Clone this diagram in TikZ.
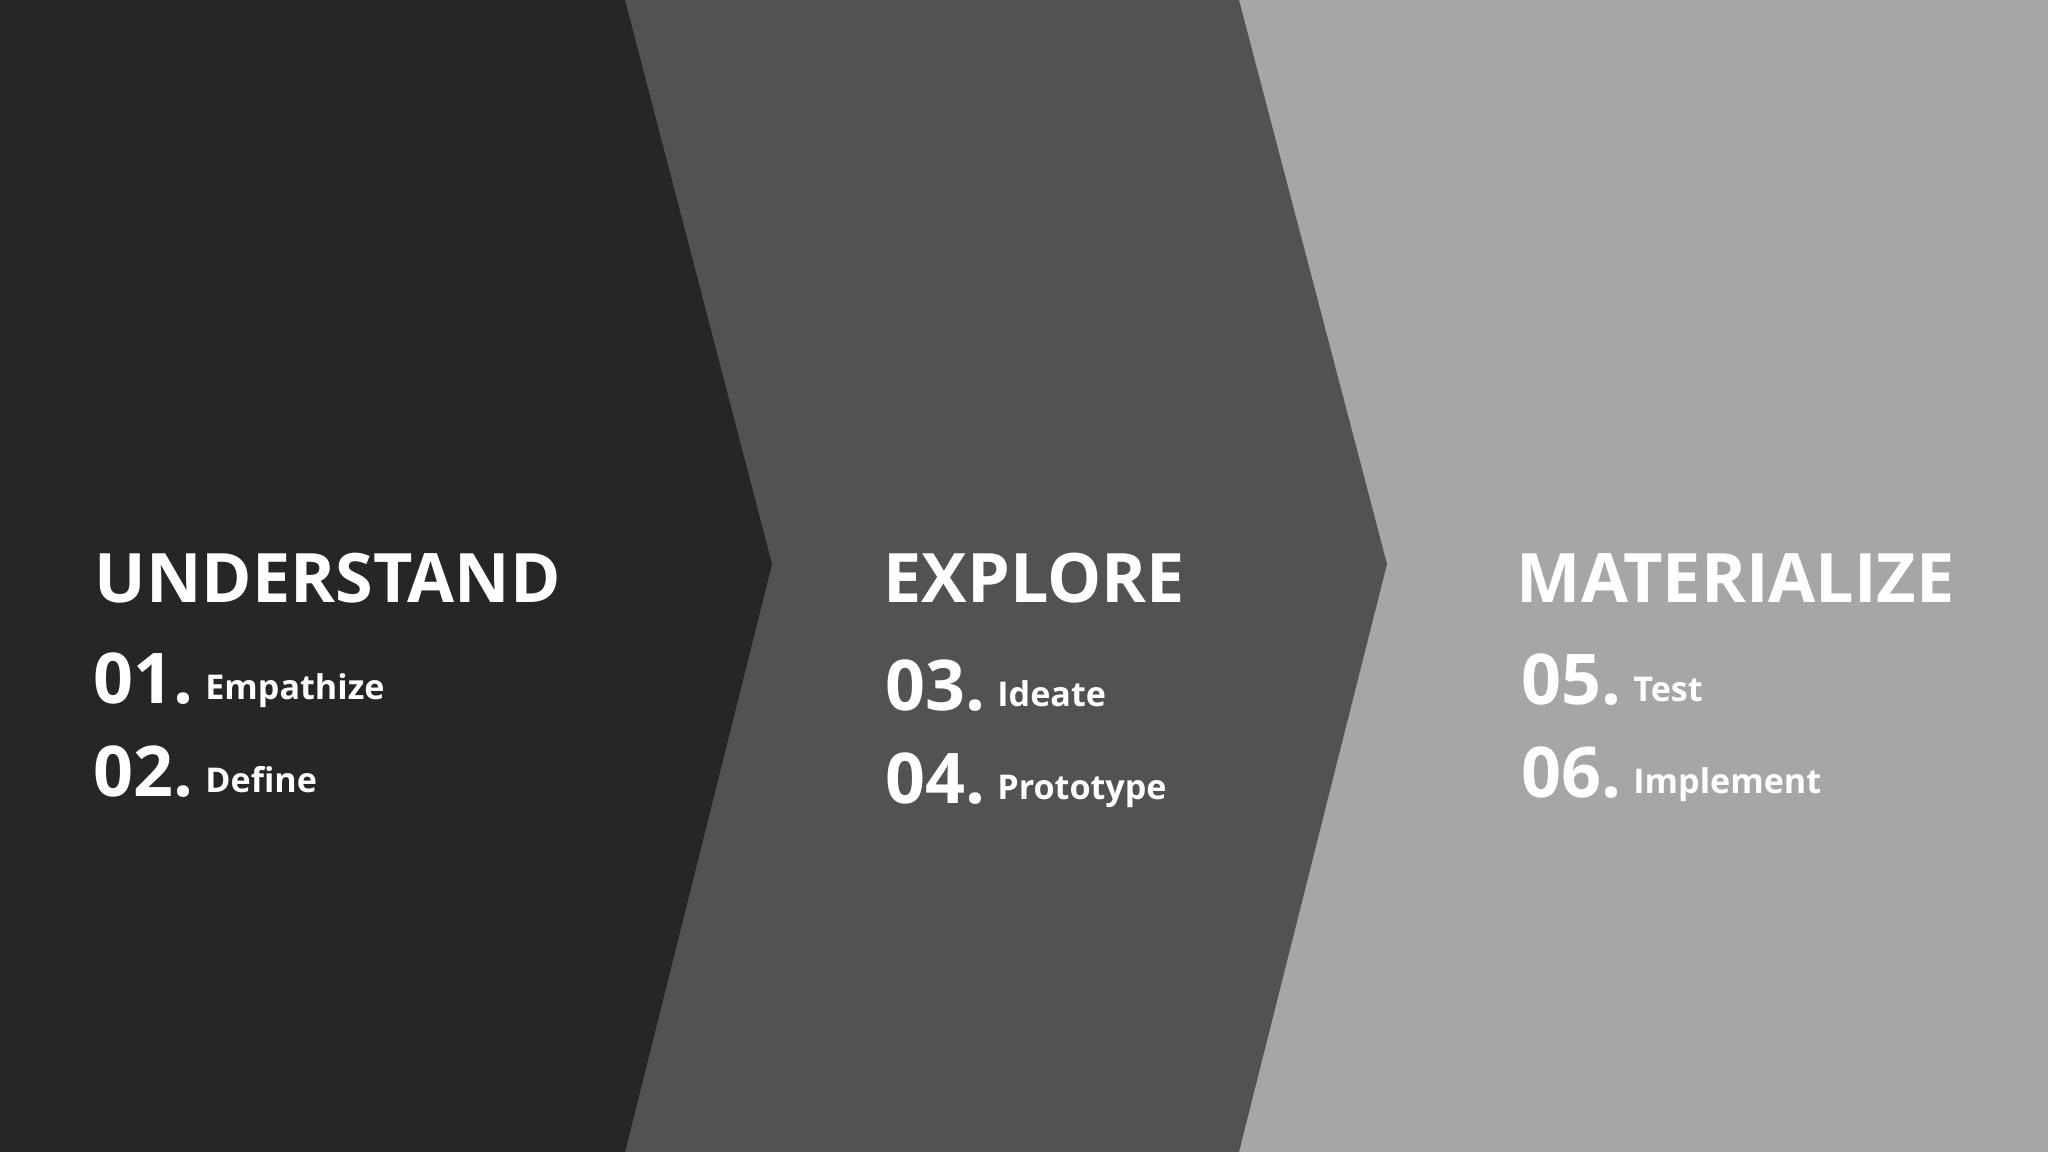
\documentclass[tikz,border=0pt]{standalone}
\usepackage{fontspec}
\setmainfont{Open Sans}
\definecolor{understandgray}{HTML}{262626}
\definecolor{exploregray}{HTML}{525252}
\definecolor{materializegray}{HTML}{A6A6A6}
\newcommand{\stepnum}[1]{{\fontsize{19.9}{24}\selectfont #1}}
\newcommand{\stepname}[1]{\raisebox{0.9pt}{#1}}
\begin{document}
\begin{tikzpicture}[x=0.01cm,y=-0.01cm,
    phase/.style={anchor=base west,inner sep=0pt,text=white,
      font=\bfseries\fontsize{19.4}{24}\selectfont},
    stepitem/.style={anchor=base west,inner sep=0pt,text=white,
      font=\bfseries\fontsize{9.7}{12}\selectfont}]
    \useasboundingbox (0,0) rectangle (2048,1152);
    % three chevron bands
    \fill[materializegray] (0,0) rectangle (2048,1152);
    \fill[exploregray] (0,0) -- (1239,0) -- (1387,564) -- (1239,1152) -- (0,1152) -- cycle;
    \fill[understandgray] (0,0) -- (625,0) -- (772,564) -- (625,1152) -- (0,1152) -- cycle;
    % phase titles
    \node[phase] (understand) at (94,603) {UNDERSTAND};
    \node[phase] (explore) at (883,603) {EXPLORE};
    \node[phase] (materialize) at (1516,603) {MATERIALIZE};
    % steps
    \node[stepitem] (empathize) at (93,703) {\stepnum{01.} \stepname{Empathize}};
    \node[stepitem] (define) at (93,796) {\stepnum{02.} \stepname{Define}};
    \node[stepitem] (ideate) at (885,710) {\stepnum{03.} \stepname{Ideate}};
    \node[stepitem] (prototype) at (885,803) {\stepnum{04.} \stepname{Prototype}};
    \node[stepitem] (test) at (1521,705) {\stepnum{05.} \stepname{Test}};
    \node[stepitem] (implement) at (1521,797) {\stepnum{06.} \stepname{Implement}};
\end{tikzpicture}
\end{document}
